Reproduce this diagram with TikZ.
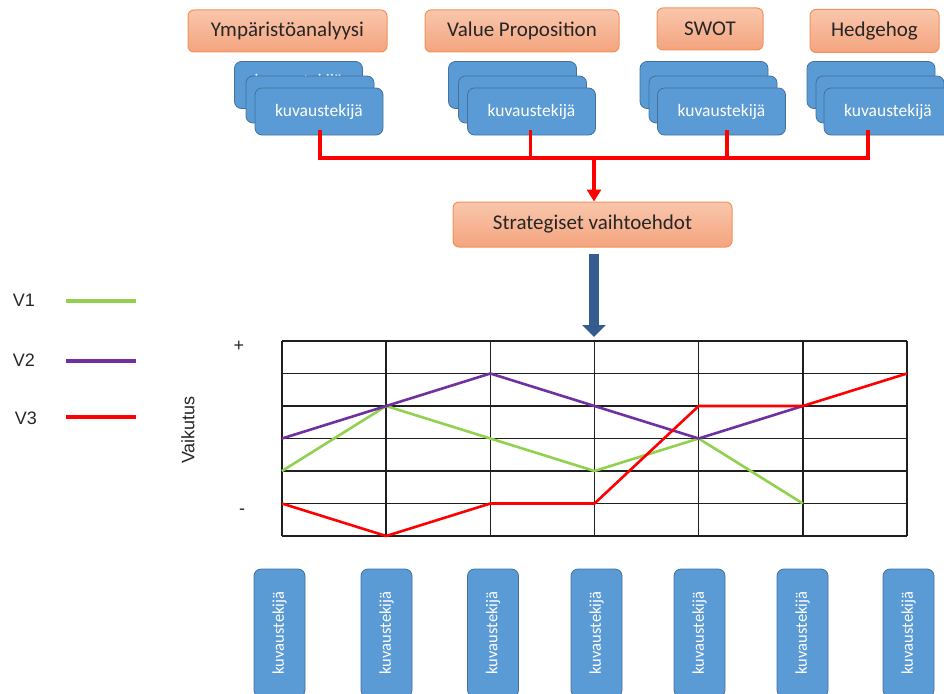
\documentclass[tikz,border=0pt]{standalone}
\usepackage{fontspec}
\setmainfont{Carlito}
\newfontfamily\legendfont{Liberation Sans}
\usetikzlibrary{arrows.meta,calc}

\definecolor{boxtop}{HTML}{F9C6AC}
\definecolor{boxbot}{HTML}{F4A47E}
\definecolor{boxline}{HTML}{F0935A}
\definecolor{cardfill}{HTML}{5B9BD5}
\definecolor{cardline}{HTML}{41719C}
\definecolor{arrowblue}{HTML}{355C8F}
\definecolor{vgreen}{HTML}{92D050}
\definecolor{vpurple}{HTML}{7030A0}
\definecolor{vred}{HTML}{FF0000}
\definecolor{gridcol}{HTML}{1F1F1F}

\tikzset{
  toolbox/.style={rounded corners=6pt, draw=boxline, line width=1pt,
    top color=boxtop, bottom color=boxbot, text=black!85,
    font=\fontsize{21}{23}\selectfont, inner sep=0pt},
  card/.style={rounded corners=7pt, draw=cardline, line width=0.8pt,
    fill=cardfill, text=white, font=\fontsize{17.5}{19}\selectfont, inner sep=0pt,
    minimum width=128pt, minimum height=47pt},
  cardtext/.style={text=white, font=\fontsize{17.5}{19}\selectfont, inner sep=0pt},
  factor/.style={rounded corners=7pt, draw=cardline, line width=0.8pt,
    fill=cardfill, text=white, font=\fontsize{16.5}{18}\selectfont, inner sep=0pt,
    rotate=90, minimum width=128pt, minimum height=51pt},
  bracket/.style={draw=vred, line width=3.5pt},
  gridline/.style={draw=gridcol, line width=1.5pt},
  series/.style={line width=2.6pt, line join=round},
  legendtext/.style={font=\legendfont\fontsize{18}{20}\selectfont, text=black!85},
}

\begin{document}
\begin{tikzpicture}[x=1pt,y=-1pt]
\useasboundingbox (0,0) rectangle (944,693);

% analysis tools
\node[toolbox, minimum width=199pt, minimum height=42pt] (t1) at (287.5,31) {Ympäristöanalyysi};
\node[toolbox, minimum width=194pt, minimum height=42pt] (t2) at (522,31) {Value Proposition};
\node[toolbox, minimum width=106pt, minimum height=42pt] (t3) at (710,29) {SWOT};
\node[toolbox, minimum width=129pt, minimum height=43pt] (t4) at (874.5,31) {Hedgehog};

% stacked descriptor cards under each tool (text only on the front card;
% the first stack's back card shows the top of its own text)
\node[card] (c1a) at (298.5,85) {};
\node[cardtext] (c1atext) at (298.5,82) {kuvaustekijä};
\foreach \n/\xa in {2/512.5, 3/704, 4/871}{
  \node[card] (c\n a) at (\xa,85) {};
}
\foreach \n/\xb/\xc in {1/310/319, 2/522.5/531.5, 3/713/721.5, 4/880/888}{
  \node[card] (c\n b) at (\xb,99.5) {};
  \node[card] (c\n c) at (\xc,111.5) {kuvaustekijä};
}

% strategic alternatives
\node[toolbox, minimum width=279pt, minimum height=45pt] (strat) at (592.5,224.5) {Strategiset vaihtoehdot};

% red bracket joining the tools
\coordinate (s1) at ($(c1c.south)+(1,-5)$);
\coordinate (s2) at ($(c2c.south)+(-1,-5)$);
\coordinate (s3) at ($(c3c.south)+(5.5,-5)$);
\coordinate (s4) at ($(c4c.south)+(-20,-5)$);
\coordinate (bar) at (594,158);
\draw[bracket, line join=miter] (s1) |- (s4 |- bar) -- (s4);
\draw[bracket] (s2) -- (s2 |- bar);
\draw[bracket] (s3) -- (s3 |- bar);
\draw[bracket, -{Triangle[width=14pt,length=12pt]}] (bar) -- (strat.north -| bar);

% grid of impacts
\def\gx{282}\def\gy{341}\def\cw{104.1667}\def\rh{32.5}
\coordinate (gridtop) at (594,\gy);
\draw[-{Triangle[width=23pt,length=12pt]}, arrowblue, line width=10pt]
  ([yshift=-6pt]strat.south -| gridtop) -- ([yshift=4pt]gridtop);
\foreach \i in {0,...,6}{
  \draw[gridline] ({\gx+\i*\cw},\gy) -- ({\gx+\i*\cw},{\gy+6*\rh});
  \draw[gridline] (\gx,{\gy+\i*\rh}) -- ({\gx+6*\cw},{\gy+\i*\rh});
}

% value series: column index / row index
\newcommand\pt[2]{({\gx+#1*\cw},{\gy+#2*\rh})}
\draw[series, vgreen] \pt{0}{4} -- \pt{1}{2} -- \pt{2}{3} -- \pt{3}{4} -- \pt{4}{3} -- \pt{5}{5};
\draw[series, vpurple] \pt{0}{3} -- \pt{1}{2} -- \pt{2}{1} -- \pt{3}{2} -- \pt{4}{3} -- \pt{5}{2};
\draw[series, vred] \pt{0}{5} -- \pt{1}{6} -- \pt{2}{5} -- \pt{3}{5} -- \pt{4}{2} -- \pt{5}{2} -- \pt{6}{1};

% axis labels
\node[legendtext] (plus) at (239,346) {+};
\node[legendtext] (minus) at (242,512) {-};
\node[legendtext, rotate=90] (axis) at (188,430) {Vaikutus};

% legend
\node[legendtext] (v1) at (24,300) {V1};
\node[legendtext] (v2) at (24,360) {V2};
\node[legendtext] (v3) at (26,418) {V3};
\coordinate (l1a) at (66,301); \coordinate (l1b) at (136,301);
\coordinate (l2a) at (66,361); \coordinate (l2b) at (136,361);
\coordinate (l3a) at (66,417); \coordinate (l3b) at (136,417);
\draw[series, vgreen, line width=3.5pt] (l1a) -- (l1b);
\draw[series, vpurple, line width=3.5pt] (l2a) -- (l2b);
\draw[series, vred, line width=3.5pt] (l3a) -- (l3b);

% descriptor factors below the grid
\foreach \n/\x in {1/279.5, 2/386.5, 3/493, 4/596.5, 5/699.5, 6/802.5, 7/908.5}{
  \node[factor] (f\n) at (\x,633) {kuvaustekijä};
}
\end{tikzpicture}
\end{document}
